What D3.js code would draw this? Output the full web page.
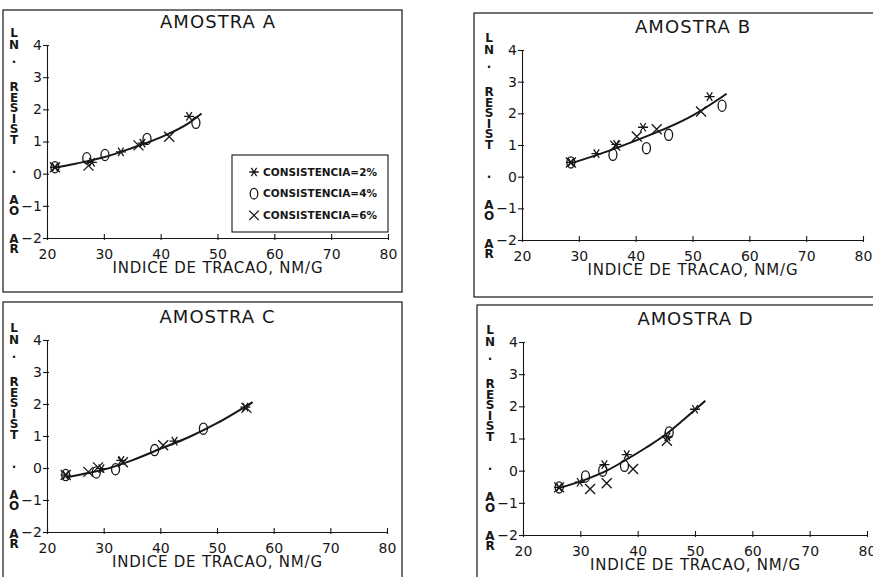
<!DOCTYPE html>
<html>
<head>
<meta charset="utf-8">
<script src="https://cdnjs.cloudflare.com/ajax/libs/d3/7.8.5/d3.min.js"></script>
<style>
  body { margin: 0; background: #fff; }
  svg { display: block; }
</style>
</head>
<body>
<div id="chart"></div>
<script>
// --- data ---
const panelTitles = ['AMOSTRA A', 'AMOSTRA B', 'AMOSTRA C', 'AMOSTRA D'];
const seriesNames = ['CONSISTENCIA=2%', 'CONSISTENCIA=4%', 'CONSISTENCIA=6%'];
const xTicks = [20, 30, 40, 50, 60, 70, 80];
const yTicks = [-2, -1, 0, 1, 2, 3, 4];
const yTickLabels = ['−2', '−1', '0', '1', '2', '3', '4'];
const xTitle = 'INDICE DE TRACAO, NM/G';
const yTitleLetters = ['L', 'N', '·', 'R', 'E', 'S', 'I', 'S', 'T', '·', 'A', 'O', 'A', 'R'];

// amostra A
const a2 = [[21.4, 0.2], [27.9, 0.35], [33.0, 0.68], [36.8, 0.95], [45.0, 1.78]];
const a4 = [[21.4, 0.2], [27.0, 0.48], [30.2, 0.58], [37.6, 1.08], [46.2, 1.58]];
const a6 = [[21.4, 0.2], [27.3, 0.25], [36.1, 0.88], [41.5, 1.15]];
const aFit = [[21.4, 0.18], [25, 0.31], [30, 0.51], [35, 0.8], [40, 1.13], [45, 1.58], [47.2, 1.87]];

// amostra B
const b2 = [[28.6, 0.45], [33.1, 0.73], [36.6, 1.02], [41.3, 1.56], [53.0, 2.53]];
const b4 = [[28.6, 0.45], [36.0, 0.69], [41.9, 0.9], [45.8, 1.32], [55.2, 2.24]];
const b6 = [[28.6, 0.45], [36.4, 0.98], [40.2, 1.27], [43.7, 1.5], [51.5, 2.06]];
const bFit = [[28.6, 0.42], [35, 0.8], [40, 1.14], [45, 1.5], [50, 1.93], [56, 2.62]];

// amostra C
const c2 = [[23.3, -0.22], [29.6, -0.02], [33.1, 0.24], [42.5, 0.84], [55.0, 1.9]];
const c4 = [[23.3, -0.22], [28.7, -0.14], [32.1, -0.04], [39.0, 0.56], [47.6, 1.23]];
const c6 = [[23.3, -0.22], [27.3, -0.12], [29.0, 0.02], [33.4, 0.18], [40.5, 0.71], [55.2, 1.88]];
const cFit = [[23.3, -0.3], [26, -0.2], [30, -0.05], [35, 0.24], [40, 0.6], [45, 0.96], [50, 1.4], [56.3, 2.06]];

// amostra D
const d2 = [[26.3, -0.52], [29.9, -0.36], [34.2, 0.19], [38.1, 0.5], [45.2, 1.05], [50.0, 1.91]];
const d4 = [[26.3, -0.52], [30.9, -0.18], [33.9, 0.0], [37.7, 0.15], [45.5, 1.19]];
const d6 = [[26.3, -0.52], [31.7, -0.57], [34.6, -0.39], [39.2, 0.05], [45.1, 0.93]];
const dFit = [[26.1, -0.55], [31, -0.27], [34.6, 0.0], [38, 0.34], [41.5, 0.72], [45, 1.14], [48, 1.58], [51.8, 2.17]];

const panelSeries = [[a2, a4, a6], [b2, b4, b6], [c2, c4, c6], [d2, d4, d6]];
const panelFits = [aFit, bFit, cFit, dFit];

// --- layout (pixels) ---
const width = 873;
const height = 577;
const ink = '#171717';
const font = "'DejaVu Sans', sans-serif";
const layout = [
  {frame: [3, 10, 402, 292], x: [47, 388], y: [238, 45], legend: true},
  {frame: [474, 13, 890, 297], x: [522, 863], y: [240, 50]},
  {frame: [3, 302, 402, 600], x: [47, 387], y: [532, 340]},
  {frame: [477, 305, 890, 600], x: [523, 867], y: [535, 342]}
];
const yTitleOffsets = [-12, 0, 17, 42, 52.5, 63, 73.5, 84, 94.5, 127, 155, 166, 194, 204];

const svg = d3.select('#chart').append('svg')
  .attr('width', width)
  .attr('height', height)
  .style('background', '#fff');

const drawMarker = (g, kind, cx, cy, s) => {
  if (kind === 1) {
    g.append('ellipse')
      .attr('cx', cx).attr('cy', cy)
      .attr('rx', 4 * s).attr('ry', 5.6 * s)
      .attr('fill', 'none').attr('stroke', ink).attr('stroke-width', 1.3);
    return;
  }
  const r = 5 * s;
  const d = kind === 0 ?
    `M${-r},0H${r}M${-r * 0.55},${-r * 0.85}L${r * 0.55},${r * 0.85}M${-r * 0.55},${r * 0.85}L${r * 0.55},${-r * 0.85}` :
    `M${-r},${-r}L${r},${r}M${-r},${r}L${r},${-r}`;
  g.append('path')
    .attr('transform', `translate(${cx},${cy})`)
    .attr('d', d)
    .attr('fill', 'none').attr('stroke', ink).attr('stroke-width', 1.3);
};

layout.forEach((p, i) => {
  const g = svg.append('g');
  const [fx0, fy0, fx1, fy1] = p.frame;
  g.append('rect')
    .attr('x', fx0).attr('y', fy0)
    .attr('width', fx1 - fx0).attr('height', fy1 - fy0)
    .attr('fill', 'none').attr('stroke', ink).attr('stroke-width', 1.2);

  const xScale = d3.scaleLinear().domain([20, 80]).range(p.x);
  const yScale = d3.scaleLinear().domain([-2, 4]).range(p.y);

  const xAxis = g.append('g')
    .attr('transform', `translate(0, ${p.y[0]})`)
    .call(d3.axisBottom(xScale)
      .tickValues(xTicks)
      .tickFormat(d => String(d))
      .tickSize(-4).tickSizeOuter(0).tickPadding(11));
  xAxis.selectAll('.tick line').attr('y1', 2);
  const yAxis = g.append('g')
    .attr('transform', `translate(${p.x[0]}, 0)`)
    .call(d3.axisLeft(yScale)
      .tickValues(yTicks)
      .tickFormat((d, k) => yTickLabels[k])
      .tickSize(4).tickSizeOuter(0).tickPadding(1));
  yAxis.selectAll('.tick line').attr('x1', 2);
  [xAxis, yAxis].forEach(a => {
    a.attr('font-family', font).attr('font-size', 14);
    a.select('.domain').attr('stroke', ink).attr('stroke-width', 1.1);
    a.selectAll('.tick line').attr('stroke', ink).attr('stroke-width', 1.1);
    a.selectAll('.tick text').attr('fill', ink);
  });

  const xMid = (p.x[0] + p.x[1]) / 2;
  g.append('text')
    .attr('x', xMid)
    .attr('y', p.y[1] - 17)
    .attr('text-anchor', 'middle')
    .attr('textLength', 115)
    .attr('font-family', font)
    .attr('font-size', 18)
    .attr('fill', ink)
    .text(panelTitles[i]);
  g.append('text')
    .attr('x', xMid)
    .attr('y', p.y[0] + 35)
    .attr('text-anchor', 'middle')
    .attr('textLength', 210)
    .attr('font-family', font)
    .attr('font-size', 15)
    .attr('fill', ink)
    .text(xTitle);

  g.selectAll('text.ylab')
    .data(yTitleLetters)
    .join('text')
    .classed('ylab', true)
    .attr('x', p.x[0] - 33)
    .attr('y', (d, k) => p.y[1] + yTitleOffsets[k])
    .attr('dy', '0.36em')
    .attr('text-anchor', 'middle')
    .attr('font-family', font)
    .attr('font-size', 12)
    .attr('font-weight', 'bold')
    .attr('fill', ink)
    .text(d => d);

  const line = d3.line()
    .curve(d3.curveMonotoneX)
    .x(d => xScale(d[0]))
    .y(d => yScale(d[1]));
  g.append('path')
    .datum(panelFits[i])
    .attr('fill', 'none')
    .attr('stroke', ink)
    .attr('stroke-width', 2)
    .attr('d', line);

  panelSeries[i].forEach((series, k) => {
    series.forEach(d => drawMarker(g, k, xScale(d[0]), yScale(d[1]), 1));
  });

  if (p.legend) {
    const lg = g.append('g');
    lg.append('rect')
      .attr('x', 232).attr('y', 155)
      .attr('width', 156).attr('height', 77)
      .attr('fill', '#fff').attr('stroke', ink).attr('stroke-width', 1.1);
    seriesNames.forEach((name, k) => {
      const cy = 172 + k * 21.7;
      drawMarker(lg, k, 254, cy, 0.95);
      lg.append('text')
        .attr('x', 263)
        .attr('y', cy)
        .attr('dy', '0.36em')
        .attr('textLength', 114)
        .attr('font-family', font)
        .attr('font-size', 10.5)
        .attr('font-weight', 'bold')
        .attr('fill', ink)
        .text(name);
    });
  }
});
</script>
</body>
</html>
